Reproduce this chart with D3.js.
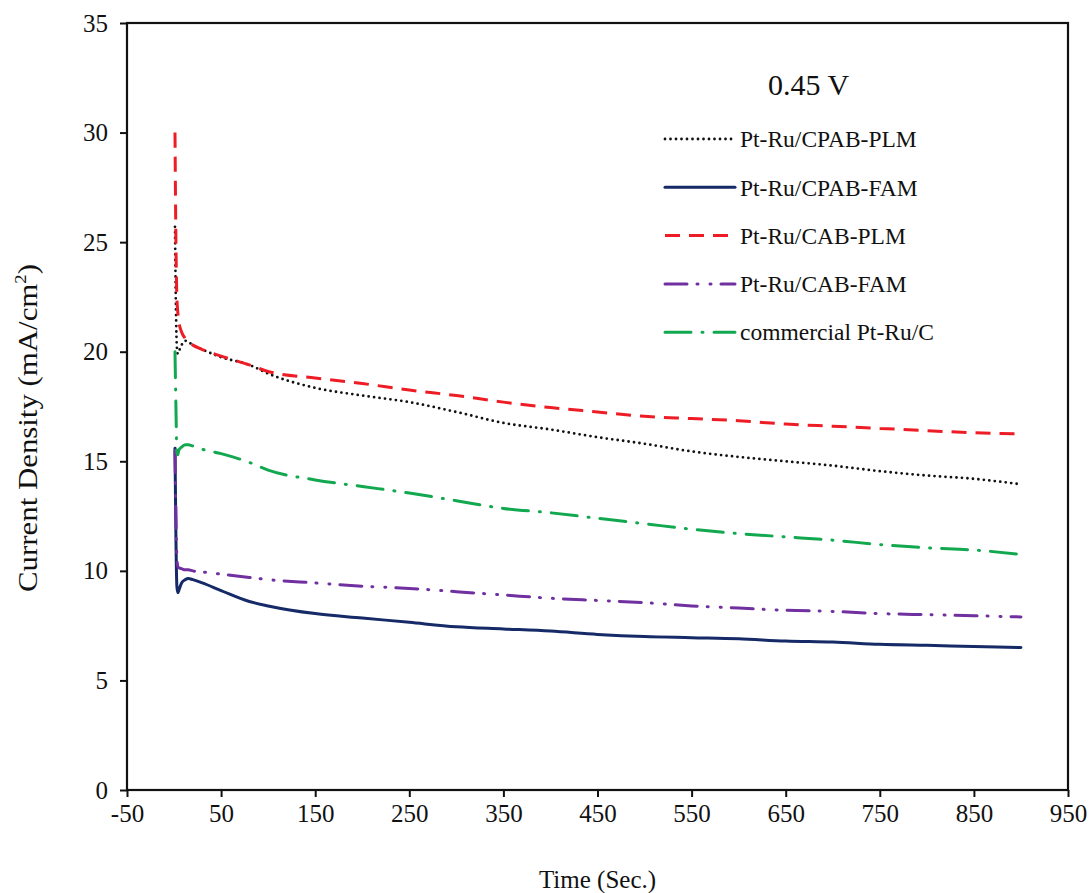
<!DOCTYPE html>
<html>
<head>
<meta charset="utf-8">
<script src="https://cdn.jsdelivr.net/npm/d3@7/dist/d3.min.js"></script>
<style>
  body { margin: 0; background: #fff; }
  svg text { font-family: "Liberation Serif", "Times New Roman", serif; }
</style>
</head>
<body>
<div id="chart"></div>
<script>
// time samples (s)
var time = [1, 2, 3, 4, 5, 8, 12, 15, 20, 30, 50, 80, 100, 150, 200, 250, 300, 350,
            400, 450, 500, 550, 600, 650, 700, 750, 800, 850, 900];

var cpabPlm = [25.7, 22.0, 20.2, 19.9, 20.0, 20.3, 20.5, 20.45, 20.3, 20.1, 19.75, 19.4, 19.0,
               18.35, 18.0, 17.7, 17.25, 16.75, 16.45, 16.1, 15.8, 15.45, 15.2, 15.0, 14.8,
               14.55, 14.35, 14.2, 13.95];
var cpabFam = [15.6, 11.5, 9.3, 9.0, 9.1, 9.45, 9.6, 9.65, 9.6, 9.45, 9.1, 8.6, 8.4,
               8.05, 7.85, 7.65, 7.45, 7.35, 7.25, 7.1, 7.0, 6.95, 6.9, 6.8, 6.75,
               6.65, 6.6, 6.55, 6.5];
var cabPlm = [30.0, 25.0, 22.5, 21.8, 21.4, 20.9, 20.6, 20.45, 20.3, 20.1, 19.8, 19.4, 19.1,
              18.8, 18.55, 18.25, 18.0, 17.7, 17.45, 17.25, 17.05, 16.95, 16.85, 16.7, 16.6,
              16.5, 16.4, 16.3, 16.25];
var cabFam = [15.5, 12.5, 10.6, 10.2, 10.15, 10.1, 10.05, 10.05, 10.0, 9.95, 9.85, 9.7, 9.6,
              9.45, 9.3, 9.2, 9.05, 8.9, 8.75, 8.65, 8.55, 8.4, 8.3, 8.2, 8.15,
              8.05, 8.0, 7.95, 7.9];
var commercial = [20.0, 17.5, 15.4, 15.3, 15.5, 15.65, 15.75, 15.75, 15.7, 15.55, 15.35, 14.95, 14.6,
                  14.15, 13.85, 13.55, 13.2, 12.85, 12.65, 12.4, 12.15, 11.9, 11.7, 11.55, 11.4,
                  11.2, 11.05, 10.95, 10.75];

var xTicks = [-50, 50, 150, 250, 350, 450, 550, 650, 750, 850, 950];
var yTicks = [0, 5, 10, 15, 20, 25, 30, 35];

var series = [
  { name: "Pt-Ru/CPAB-PLM", values: cpabPlm, color: "#111111", dash: "0 5.5", cap: "round", w: 2.8 },
  { name: "Pt-Ru/CPAB-FAM", values: cpabFam, color: "#152a66", dash: null, cap: "round", w: 3 },
  { name: "Pt-Ru/CAB-PLM", values: cabPlm, color: "#ee1c25", dash: "15 9", cap: "butt", w: 3 },
  { name: "Pt-Ru/CAB-FAM", values: cabFam, color: "#7030a0", dash: "22 10 1 12 1 10", cap: "round", w: 3 },
  { name: "commercial Pt-Ru/C", values: commercial, color: "#12a84f", dash: "26 11 1 11", cap: "round", w: 3 }
];

var width = 1090, height = 893;
var margin = { left: 127, right: 22, top: 23, bottom: 103 };

var svg = d3.select("#chart").append("svg")
  .attr("width", width)
  .attr("height", height);

var x = d3.scaleLinear().domain([-50, 950]).range([margin.left, width - margin.right]);
var y = d3.scaleLinear().domain([0, 35]).range([height - margin.bottom, margin.top]);

// axes
var xAxis = svg.append("g")
  .attr("transform", "translate(0," + y(0) + ")")
  .call(d3.axisBottom(x).tickValues(xTicks).tickFormat(function(d) { return String(d); })
    .tickSize(7).tickPadding(7).tickSizeOuter(0));
var yAxis = svg.append("g")
  .attr("transform", "translate(" + x(-50) + ",0)")
  .call(d3.axisLeft(y).tickValues(yTicks).tickSize(7).tickPadding(12).tickSizeOuter(0));

[xAxis, yAxis].forEach(function(a) {
  a.attr("font-family", null).attr("font-size", null);
  a.selectAll("text").attr("font-size", 25).attr("fill", "#111");
  a.selectAll("line").attr("stroke", "#111").attr("stroke-width", 2);
  a.select(".domain").attr("stroke", "none");
});

// plot box
svg.append("rect")
  .attr("x", x(-50)).attr("y", y(35))
  .attr("width", x(950) - x(-50)).attr("height", y(0) - y(35))
  .attr("fill", "none").attr("stroke", "#111").attr("stroke-width", 2.2);

// lines
var line = d3.line()
  .x(function(d, i) { return x(time[i]); })
  .y(function(d) { return y(d); })
  .curve(d3.curveMonotoneX);

svg.append("g").selectAll("path")
  .data(series)
  .enter().append("path")
    .attr("d", function(d) { return line(d.values); })
    .attr("fill", "none")
    .attr("stroke", function(d) { return d.color; })
    .attr("stroke-width", function(d) { return d.w; })
    .attr("stroke-linecap", function(d) { return d.cap; })
    .attr("stroke-dasharray", function(d) { return d.dash; });

// legend
svg.append("text")
  .attr("x", 768).attr("y", 95)
  .attr("font-size", 30).attr("fill", "#111")
  .text("0.45 V");

var legend = svg.append("g").selectAll("g")
  .data(series)
  .enter().append("g")
    .attr("transform", function(d, i) { return "translate(665," + (139 + i * 48.3) + ")"; });

legend.append("line")
  .attr("x1", 0).attr("x2", 70)
  .attr("stroke", function(d) { return d.color; })
  .attr("stroke-width", function(d) { return d.w; })
  .attr("stroke-linecap", function(d) { return d.cap; })
  .attr("stroke-dasharray", function(d) { return d.dash; });

legend.append("text")
  .attr("x", 75).attr("dy", "0.35em")
  .attr("font-size", 23.5).attr("fill", "#111")
  .text(function(d) { return d.name; });

// axis titles
svg.append("text")
  .attr("x", (x(-50) + x(950)) / 2).attr("y", 888)
  .attr("text-anchor", "middle")
  .attr("font-size", 25).attr("fill", "#111")
  .text("Time (Sec.)");

var yl = svg.append("text")
  .attr("transform", "translate(37,428) rotate(-90)")
  .attr("text-anchor", "middle")
  .attr("font-size", 28).attr("fill", "#111")
  .attr("textLength", 328).attr("lengthAdjust", "spacingAndGlyphs");
yl.append("tspan").text("Current Density (mA/cm");
yl.append("tspan").attr("font-size", 17).attr("dy", -11).text("2");
yl.append("tspan").attr("dy", 11).text(")");
</script>
</body>
</html>
